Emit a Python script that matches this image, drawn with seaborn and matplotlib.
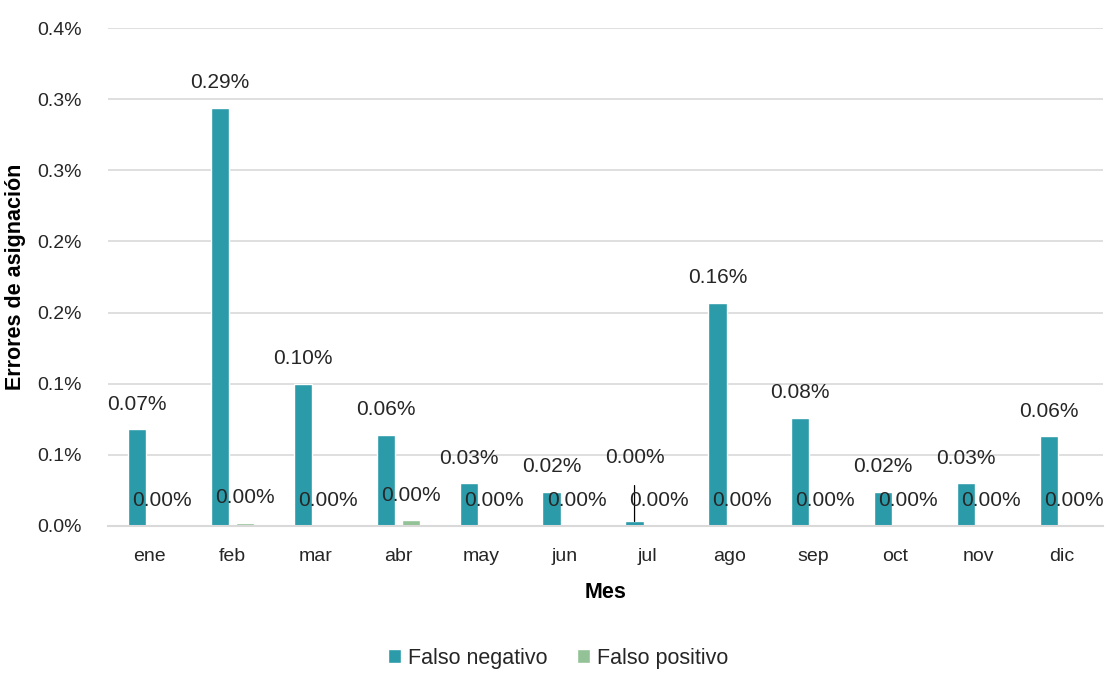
import pandas as pd
import matplotlib
matplotlib.use("Agg")
import matplotlib.pyplot as plt
import seaborn as sns

meses = ["ene", "feb", "mar", "abr", "may", "jun", "jul", "ago", "sep", "oct", "nov", "dic"]
falso_negativo = [0.068, 0.294, 0.100, 0.064, 0.030, 0.024, 0.003, 0.157, 0.076, 0.024, 0.030, 0.063]
falso_positivo = [0.0, 0.002, 0.0, 0.004, 0.0, 0.0, 0.0, 0.0, 0.0, 0.0, 0.0, 0.0]
y_ticks = [0.0, 0.05, 0.10, 0.15, 0.20, 0.25, 0.30, 0.35]
y_tick_labels = ["0.0%", "0.1%", "0.1%", "0.2%", "0.2%", "0.3%", "0.3%", "0.4%"]

df = pd.DataFrame({
    "Mes": meses * 2,
    "valor": falso_negativo + falso_positivo,
    "serie": ["Falso negativo"] * 12 + ["Falso positivo"] * 12,
})

sns.set_theme(style="white")
plt.rcParams["font.family"] = ["Liberation Sans", "DejaVu Sans"]

fig = plt.figure(figsize=(11.05, 6.74), dpi=100)
ax = fig.add_axes([0.098, 0.22, 0.90, 0.738])

colores = {"Falso negativo": "#2B9BAA", "Falso positivo": "#93C296"}
sns.barplot(data=df, x="Mes", y="valor", hue="serie", palette=colores,
            width=0.6, gap=0.26, saturation=1, ax=ax, legend=True)

txt_col = "#262626"
ax.set_ylim(0, 0.35)
ax.set_yticks(y_ticks)
ax.set_yticklabels(y_tick_labels, fontsize=14, color=txt_col)
ax.tick_params(axis="x", labelsize=14, colors=txt_col, length=0, pad=16)
ax.tick_params(axis="y", length=0, pad=19)
ax.yaxis.grid(True, color="#d9d9d9", linewidth=1.2)
ax.set_axisbelow(True)
for s in ["top", "right", "left"]:
    ax.spines[s].set_visible(False)
ax.spines["bottom"].set_color("#d9d9d9")
ax.spines["bottom"].set_linewidth(1.5)

ax.set_xlabel("Mes", fontsize=15.5, fontweight="bold", color="#000000", labelpad=12)
ax.set_ylabel("Errores de asignación", fontsize=15.5, fontweight="bold", color="#000000", labelpad=8)

# etiquetas de datos
for cont in ax.containers:
    for bar in cont:
        x = bar.get_x() + bar.get_width() / 2
        h = bar.get_height()
        txt = f"{h:.2f}%"
        if h < 0.01 and cont is ax.containers[0]:
            # etiqueta desplazada con linea guia (jul)
            ax.annotate(txt, xy=(x, h), xytext=(x, h + 0.045), ha="center", va="center",
                        fontsize=15, color=txt_col,
                        arrowprops=dict(arrowstyle="-", color="#000000", lw=0.9, shrinkB=0, shrinkA=11))
        else:
            ax.annotate(txt, xy=(x, h), xytext=(0, 18), textcoords="offset points",
                        ha="center", va="center", fontsize=15, color=txt_col)

handles, labels = ax.get_legend_handles_labels()
ax.get_legend().remove()
fig.legend(handles, labels, loc="upper center", bbox_to_anchor=(0.505, 0.058), ncol=2, frameon=False,
           fontsize=15.5, handlelength=0.6, handleheight=0.6, handletextpad=0.3, columnspacing=1.4,
           borderpad=0.1)

fig.savefig("out.png", dpi=100)
